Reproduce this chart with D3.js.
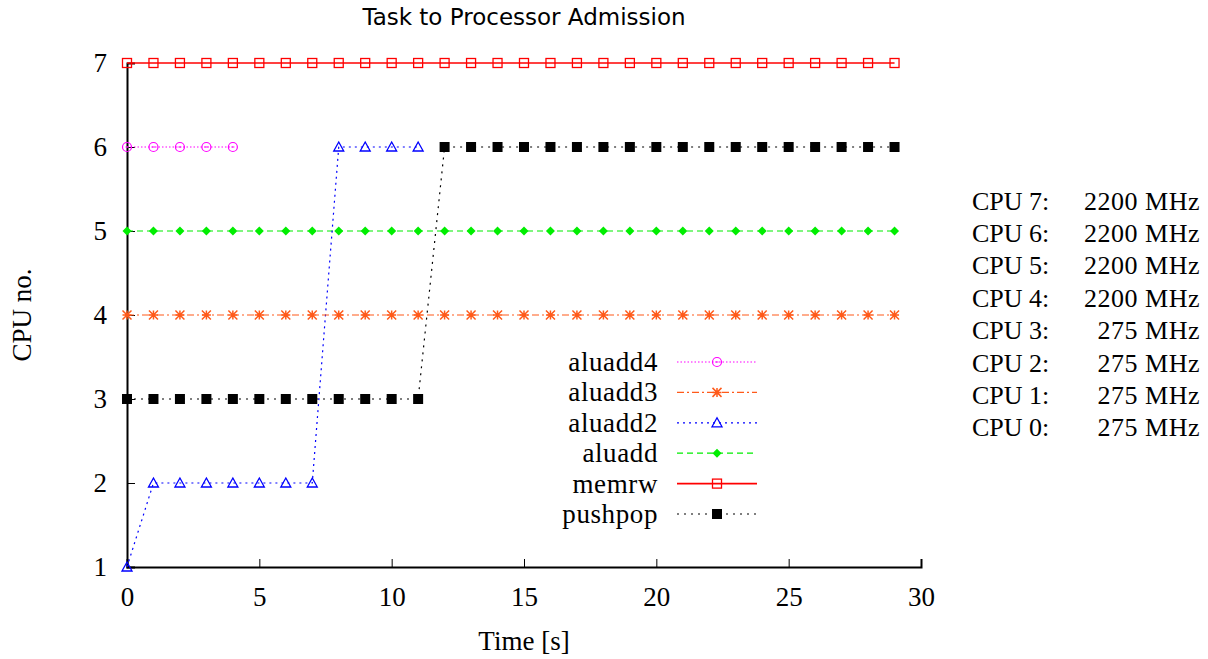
<!DOCTYPE html>
<html>
<head>
<meta charset="utf-8">
<script src="https://cdn.jsdelivr.net/npm/d3@7"></script>
<style>
  body { margin: 0; background: #fff; }
  text { font-family: "Liberation Serif", "DejaVu Serif", serif; fill: #000; }
</style>
</head>
<body>
<div id="chart"></div>
<script>
// ---- data ----
const xTicks = [0, 5, 10, 15, 20, 25, 30]
const yTicks = [1, 2, 3, 4, 5, 6, 7]

const tFull = d3.range(0, 30)          // 0..29
const memrwY = tFull.map(() => 7)
const aluaddY = tFull.map(() => 5)
const aluadd3Y = tFull.map(() => 4)

const aluadd4T = [0, 1, 2, 3, 4]
const aluadd4Y = [6, 6, 6, 6, 6]

const aluadd2T = [0, 1, 2, 3, 4, 5, 6, 7, 8, 9, 10, 11]
const aluadd2Y = [1, 2, 2, 2, 2, 2, 2, 2, 6, 6, 6, 6]

const pushpopT = tFull
const pushpopY = [3, 3, 3, 3, 3, 3, 3, 3, 3, 3, 3, 3,
                  6, 6, 6, 6, 6, 6, 6, 6, 6, 6, 6, 6, 6, 6, 6, 6, 6, 6]

const cpuNames = ["CPU 7:", "CPU 6:", "CPU 5:", "CPU 4:", "CPU 3:", "CPU 2:", "CPU 1:", "CPU 0:"]
const cpuFreqs = ["2200 MHz", "2200 MHz", "2200 MHz", "2200 MHz", "275 MHz", "275 MHz", "275 MHz", "275 MHz"]

// legend order top to bottom
const series = [
  { name: "aluadd4", t: aluadd4T, y: aluadd4Y, color: "#ff00ff", dash: "1.5,2", marker: "circle" },
  { name: "aluadd3", t: tFull, y: aluadd3Y, color: "#ff5a1a", dash: "7,3,2,3", marker: "star" },
  { name: "aluadd2", t: aluadd2T, y: aluadd2Y, color: "#0000ff", dash: "2,4", marker: "triangle" },
  { name: "aluadd", t: tFull, y: aluaddY, color: "#00ee00", dash: "6,4", marker: "diamond" },
  { name: "memrw", t: tFull, y: memrwY, color: "#ff0000", dash: null, marker: "square" },
  { name: "pushpop", t: pushpopT, y: pushpopY, color: "#000000", dash: "2,5", marker: "fsquare" }
]

const W = 1208, H = 659
const plot = { left: 127, right: 921, top: 63, bottom: 567 }
const serifSize = "27px"

const svg = d3.select("#chart").append("svg")
  .attr("width", W).attr("height", H)

const x = d3.scaleLinear().domain([0, 30]).range([plot.left, plot.right])
const y = d3.scaleLinear().domain([1, 7]).range([plot.bottom, plot.top])

// axes: ticks point inward
const xAxis = svg.append("g")
  .attr("transform", "translate(0," + plot.bottom + ")")
  .call(d3.axisBottom(x).tickValues(xTicks).tickFormat(d3.format("d")).tickSize(-8).tickPadding(20))
const yAxis = svg.append("g")
  .attr("transform", "translate(" + plot.left + ",0)")
  .call(d3.axisLeft(y).tickValues(yTicks).tickFormat(d3.format("d")).tickSize(-8).tickPadding(20))

;[xAxis, yAxis].forEach(a => {
  a.select(".domain").attr("stroke", "#000").attr("stroke-width", 2)
  a.selectAll(".tick line").attr("stroke", "#000").attr("stroke-width", 1)
  a.selectAll(".tick text")
    .style("font-family", '"Liberation Serif", serif')
    .style("font-size", serifSize)
})
yAxis.selectAll(".tick text").attr("dy", "0.33em")
xAxis.selectAll(".tick text").attr("dy", "0.71em")

// markers
function drawMarker(g, kind, cx, cy, color) {
  if (kind === "circle") {
    g.append("circle").attr("cx", cx).attr("cy", cy).attr("r", 4.5)
      .attr("fill", "none").attr("stroke", color).attr("stroke-width", 1.2)
    g.append("line").attr("x1", cx - 1.5).attr("x2", cx + 1.5).attr("y1", cy).attr("y2", cy)
      .attr("stroke", color).attr("stroke-width", 1)
  } else if (kind === "square") {
    g.append("rect").attr("x", cx - 4.5).attr("y", cy - 4.5).attr("width", 9).attr("height", 9)
      .attr("fill", "none").attr("stroke", color).attr("stroke-width", 1.3)
  } else if (kind === "fsquare") {
    g.append("rect").attr("x", cx - 5).attr("y", cy - 5).attr("width", 10).attr("height", 10)
      .attr("fill", color)
  } else if (kind === "triangle") {
    g.append("path")
      .attr("d", `M${cx},${cy - 5}L${cx + 5},${cy + 4}L${cx - 5},${cy + 4}Z`)
      .attr("fill", "none").attr("stroke", color).attr("stroke-width", 1.3)
  } else if (kind === "diamond") {
    g.append("path")
      .attr("d", `M${cx},${cy - 4.5}L${cx + 4.5},${cy}L${cx},${cy + 4.5}L${cx - 4.5},${cy}Z`)
      .attr("fill", color)
  } else if (kind === "star") {
    const r = 4.5
    g.append("path")
      .attr("d", `M${cx - r},${cy}L${cx + r},${cy}M${cx - r},${cy - r}L${cx + r},${cy + r}M${cx - r},${cy + r}L${cx + r},${cy - r}M${cx},${cy - r}L${cx},${cy + r}`)
      .attr("stroke", color).attr("stroke-width", 1.5)
  }
}

const line = d3.line().x(d => x(d[0])).y(d => y(d[1]))

// draw from the bottom legend entry up
series.slice().reverse().forEach(s => {
  const pts = s.t.map((t, i) => [t, s.y[i]])
  const g = svg.append("g")
  g.append("path").datum(pts)
    .attr("d", line)
    .attr("fill", "none")
    .attr("stroke", s.color)
    .attr("stroke-width", s.marker === "square" ? 1.6 : 1.2)
    .attr("stroke-dasharray", s.dash)
  pts.forEach(p => drawMarker(g, s.marker, x(p[0]), y(p[1]), s.color))
})

// legend
const legend = svg.append("g")
series.forEach((s, i) => {
  const ly = 362 + i * 30.4
  legend.append("text").attr("x", 658).attr("y", ly).attr("dy", "0.33em")
    .attr("text-anchor", "end").style("font-size", serifSize)
    .style("letter-spacing", "0.6px").text(s.name)
  legend.append("line").attr("x1", 677).attr("x2", 757).attr("y1", ly).attr("y2", ly)
    .attr("stroke", s.color).attr("stroke-width", s.marker === "square" ? 1.6 : 1.2)
    .attr("stroke-dasharray", s.dash)
  drawMarker(legend, s.marker, 717, ly, s.color)
})

// CPU frequency list
cpuNames.forEach((n, i) => {
  const cy = 201 + i * 32.4
  svg.append("text").attr("x", 972).attr("y", cy).attr("dy", "0.33em")
    .style("font-size", "26px").text(n)
  svg.append("text").attr("x", 1200).attr("y", cy).attr("dy", "0.33em")
    .attr("text-anchor", "end").style("font-size", "26px")
    .style("letter-spacing", "0.5px").text(cpuFreqs[i])
})

// titles
svg.append("text").attr("x", 524).attr("y", 17).attr("dy", "0.35em")
  .attr("text-anchor", "middle")
  .style("font-family", '"DejaVu Sans", sans-serif').style("font-size", "23px")
  .text("Task to Processor Admission")
svg.append("text").attr("x", 524).attr("y", 641).attr("dy", "0.33em")
  .attr("text-anchor", "middle").style("font-size", serifSize).text("Time [s]")
svg.append("text")
  .attr("transform", "translate(22,315) rotate(-90)")
  .attr("dy", "0.33em").attr("text-anchor", "middle")
  .style("font-size", serifSize).text("CPU no.")
</script>
</body>
</html>
